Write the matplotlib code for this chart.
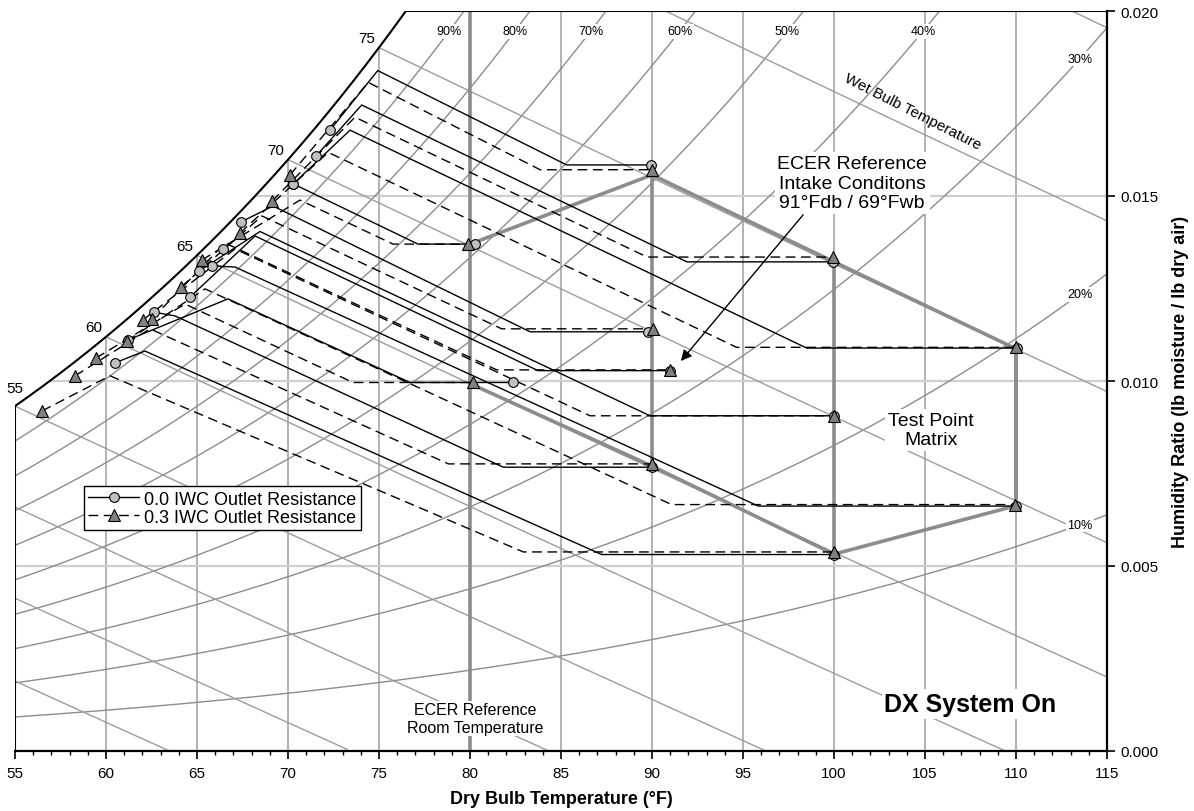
import matplotlib
matplotlib.use("Agg")
import matplotlib.pyplot as plt
import numpy as np
from matplotlib.lines import Line2D
from matplotlib.patches import Polygon

plt.rcParams['font.family'] = ['Liberation Sans', 'DejaVu Sans']

# ---- values ----
# 0.0 IWC outlet resistance: intake point, knee of the horizontal leg, apex, outlet point
iwc0_in_T = [89.93, 80.27, 99.95, 89.78, 110.04, 90.99, 82.38, 100.0, 89.98, 110.0, 100.0]
iwc0_in_w = [0.01584, 0.01370, 0.01322, 0.01133, 0.01089, 0.01028, 0.00996, 0.00906, 0.00767, 0.00662, 0.00531]
iwc0_knee_T = [85.31, 77.14, 91.92, 83.30, 98.50, 83.74, 76.70, 89.89, 81.83, 95.84, 87.24]
iwc0_apex_T = [74.93, 70.66, 74.05, 69.18, 73.41, 68.19, 66.70, 68.46, 63.79, 67.09, 62.14]
iwc0_apex_w = [0.01839, 0.01524, 0.01746, 0.01473, 0.01678, 0.01392, 0.01222, 0.01404, 0.01176, 0.01308, 0.01081]
iwc0_out_T = [72.31, 70.27, 71.54, 67.42, 70.27, 64.62, 61.21, 65.11, 62.64, 65.82, 60.49]
iwc0_out_w = [0.01678, 0.01532, 0.01608, 0.01430, 0.01532, 0.01227, 0.01111, 0.01297, 0.01186, 0.01311, 0.01049]

# 0.3 IWC outlet resistance
iwc3_in_T = [90.02, 79.91, 99.95, 90.04, 110.0, 90.99, 80.18, 100.0, 89.98, 109.95, 100.0]
iwc3_in_w = [0.01571, 0.01370, 0.01335, 0.01141, 0.01091, 0.01030, 0.00996, 0.00906, 0.00776, 0.00666, 0.00538]
iwc3_knee_T = [83.85, 75.77, 89.73, 81.74, 94.65, 81.47, 73.57, 86.59, 78.81, 91.08, 82.93]
iwc3_apex_T = [74.41, 70.66, 73.68, 68.57, 72.21, 66.54, 64.34, 67.09, 62.42, 65.44, 60.22]
iwc3_apex_w = [0.01807, 0.01489, 0.01713, 0.01446, 0.01618, 0.01373, 0.01208, 0.01357, 0.01141, 0.01249, 0.01014]
iwc3_out_T = [70.11, 65.27, 69.12, 64.12, 67.36, 62.53, 59.45, 62.03, 58.30, 61.15, 56.48]
iwc3_out_w = [0.01557, 0.01327, 0.01486, 0.01254, 0.01400, 0.01168, 0.01062, 0.01165, 0.01014, 0.01108, 0.00919]

# outlet points that carry no second line (extra circles seen near saturation)
iwc0_extra_T = [66.43]
iwc0_extra_w = [0.01357]

# test point matrix outline
matrix_T = [80, 90, 100, 110, 110, 100, 90, 80]
matrix_w = [0.0137, 0.01557, 0.01322, 0.01087, 0.00663, 0.00532, 0.0077, 0.00993]

rh_levels = [0.1, 0.2, 0.3, 0.4, 0.5, 0.6, 0.7, 0.8, 0.9]
wb_levels = [40, 45, 50, 55, 60, 65, 70, 75, 80, 85]
wb_labels = [55, 60, 65, 70, 75]

P_ATM = 14.5  # psia, matches the saturation line of the chart


def p_ws(t):
    tr = np.asarray(t, dtype=float) + 459.67
    return np.exp(-1.0440397e4 / tr - 11.29465 - 2.7022355e-2 * tr
                  + 1.289036e-5 * tr ** 2 - 2.4780681e-9 * tr ** 3 + 6.5459673 * np.log(tr))


def w_rh(t, rh):
    pw = rh * p_ws(t)
    return 0.621945 * pw / (P_ATM - pw)


def w_wb(t, twb):
    ws = w_rh(twb, 1.0)
    return ((1093 - 0.556 * twb) * ws - 0.240 * (t - twb)) / (1093 + 0.444 * t - twb)


GRID = '#a6a6a6'
CURVE = '#8c8c8c'
THICK = '#8c8c8c'

fig = plt.figure(figsize=(11.94, 8.12), dpi=100)
ax = fig.add_axes([15 / 1194, 60 / 812, 1092 / 1194, 740 / 812])
ax.set_xlim(55, 115)
ax.set_ylim(0, 0.020)

tt = np.linspace(55, 115, 1201)
wsat = w_rh(tt, 1.0)
t_top = np.interp(0.020, wsat, tt)
ts = np.linspace(55, t_top, 300)

clip = Polygon(np.column_stack([np.r_[55, ts, 115, 115], np.r_[0, w_rh(ts, 1.0), 0.020, 0]]),
               closed=True, transform=ax.transData)

# grid
for x in range(60, 115, 5):
    if x == 80:
        continue
    ln, = ax.plot([x, x], [0, 0.02], color=GRID, lw=1.2, zorder=1)
    ln.set_clip_path(clip)
for y in [0.005, 0.010, 0.015]:
    ln, = ax.plot([55, 115], [y, y], color='#cfcfcf', lw=1.6, zorder=1)
    ln.set_clip_path(clip)

# relative humidity curves
for rh in rh_levels:
    ax.plot(tt, w_rh(tt, rh), color=CURVE, lw=1.0, zorder=1)
    if rh >= 0.4:
        tl = np.interp(0.01945, w_rh(tt, rh), tt)
        wl = 0.01945
    else:
        tl = 113.5
        wl = w_rh(tl, rh)
    ax.text(tl, wl, f"{int(round(rh * 100))}%", fontsize=9, ha='center', va='center', zorder=2,
            bbox=dict(facecolor='white', edgecolor='none', pad=1.0))

# wet bulb lines
for twb in wb_levels:
    t = np.linspace(max(55, twb), 115, 300)
    w = w_wb(t, twb)
    keep = w >= 0
    ln, = ax.plot(t[keep], w[keep], color='#9c9c9c', lw=1.0, zorder=1)
    ln.set_clip_path(clip)
for twb in wb_labels:
    off = (0, 13) if twb == 55 else (-9, 7)
    ax.annotate(str(twb), (twb, w_rh(twb, 1.0)), xytext=off, textcoords='offset points',
                ha='center', va='center', fontsize=11)

ax.text(104.3, 0.0173, "Wet Bulb Temperature", rotation=-27, fontsize=11,
        ha='center', va='center', rotation_mode='anchor')

# chart boundary
ax.plot(ts, w_rh(ts, 1.0), color='k', lw=1.5, zorder=3)
ax.plot([55, 55], [0, w_rh(55, 1.0)], color='k', lw=1.5, zorder=3)
ax.plot([t_top, 115], [0.02, 0.02], color='k', lw=1.5, zorder=3)

# test point matrix
ax.plot([80, 80], [0, 0.02], color=THICK, lw=2.6, zorder=2)
ax.plot(matrix_T, matrix_w, color=THICK, lw=2.6, zorder=2, solid_joinstyle='miter')
for x in [90, 100, 110]:
    ws_ = [w for t_, w in zip(matrix_T, matrix_w) if t_ == x]
    ax.plot([x, x], [min(ws_), max(ws_)], color=THICK, lw=2.6, zorder=2)

# process lines
for i in range(len(iwc0_in_T)):
    ax.plot([iwc0_out_T[i], iwc0_apex_T[i], iwc0_knee_T[i], iwc0_in_T[i]],
            [iwc0_out_w[i], iwc0_apex_w[i], iwc0_in_w[i], iwc0_in_w[i]],
            color='k', lw=1.0, zorder=4)
for i in range(len(iwc3_in_T)):
    ax.plot([iwc3_out_T[i], iwc3_apex_T[i], iwc3_knee_T[i], iwc3_in_T[i]],
            [iwc3_out_w[i], iwc3_apex_w[i], iwc3_in_w[i], iwc3_in_w[i]],
            color='k', lw=1.0, dashes=(7, 4), zorder=4)
ax.plot(iwc0_in_T + iwc0_out_T + iwc0_extra_T, iwc0_in_w + iwc0_out_w + iwc0_extra_w,
        ls='none', marker='o', ms=7, mfc='#c0c0c0', mec='k', mew=0.8, zorder=5)
ax.plot(iwc3_in_T + iwc3_out_T, iwc3_in_w + iwc3_out_w, ls='none', marker='^', ms=8,
        mfc='#808080', mec='k', mew=0.8, zorder=5)

# annotations
ax.text(101.0, 0.01535, "ECER Reference\nIntake Conditons\n91°Fdb / 69°Fwb", fontsize=14,
        ha='center', va='center', linespacing=1.2, zorder=6,
        bbox=dict(facecolor='white', edgecolor='none', pad=2))
ax.annotate('', xy=(91.59, 0.01054), xytext=(98.3, 0.01449),
            arrowprops=dict(arrowstyle='-|>', color='k', lw=1.0, mutation_scale=16,
                            shrinkA=0, shrinkB=0), zorder=6)
ax.text(105.33, 0.00868, "Test Point\nMatrix", fontsize=14, ha='center', va='center',
        linespacing=1.2, zorder=6, bbox=dict(facecolor='white', edgecolor='none', pad=2))
ax.text(80.27, 0.00088, "ECER Reference\nRoom Temperature", fontsize=11.5, ha='center',
        va='center', linespacing=1.2, zorder=6, bbox=dict(facecolor='white', edgecolor='none', pad=1))
ax.text(107.5, 0.00127, "DX System On", fontsize=18, fontweight='bold', ha='center',
        va='center', zorder=6, bbox=dict(facecolor='white', edgecolor='none', pad=2))

# axes styling
for s in ['top', 'left']:
    ax.spines[s].set_visible(False)
for s in ['bottom', 'right']:
    ax.spines[s].set_linewidth(1.6)
ax.xaxis.set_major_locator(plt.MultipleLocator(5))
ax.xaxis.set_minor_locator(plt.MultipleLocator(1))
ax.yaxis.set_major_locator(plt.MultipleLocator(0.005))
ax.yaxis.set_major_formatter(plt.FormatStrFormatter('%.3f'))
ax.yaxis.tick_right()
ax.yaxis.set_label_position('right')
ax.tick_params(axis='x', which='major', length=6, width=1.2, labelsize=11, direction='out', pad=5)
ax.tick_params(axis='x', which='minor', length=3, width=1.0, direction='out')
ax.tick_params(axis='y', which='major', length=6, width=1.2, labelsize=11, direction='out')
ax.set_xlabel("Dry Bulb Temperature (°F)", fontsize=13, fontweight='bold', labelpad=7)
ax.set_ylabel("Humidity Ratio (lb moisture / lb dry air)", fontsize=13, fontweight='bold', labelpad=10)

handles = [Line2D([], [], color='k', lw=1.0, marker='o', ms=7, mfc='#c0c0c0', mec='k', mew=0.8),
           Line2D([], [], color='k', lw=1.0, dashes=(7, 4), marker='^', ms=8, mfc='#808080', mec='k', mew=0.8)]
leg = ax.legend(handles, ["0.0 IWC Outlet Resistance", "0.3 IWC Outlet Resistance"],
                loc='lower left', bbox_to_anchor=(0.063, 0.2986), borderaxespad=0, fontsize=13,
                fancybox=False, framealpha=1, edgecolor='k', handlelength=2.8, labelspacing=0.05,
                borderpad=0.25, handletextpad=0.3)
leg.get_frame().set_linewidth(1.0)
leg.set_zorder(7)

fig.savefig("out.png", dpi=100)
